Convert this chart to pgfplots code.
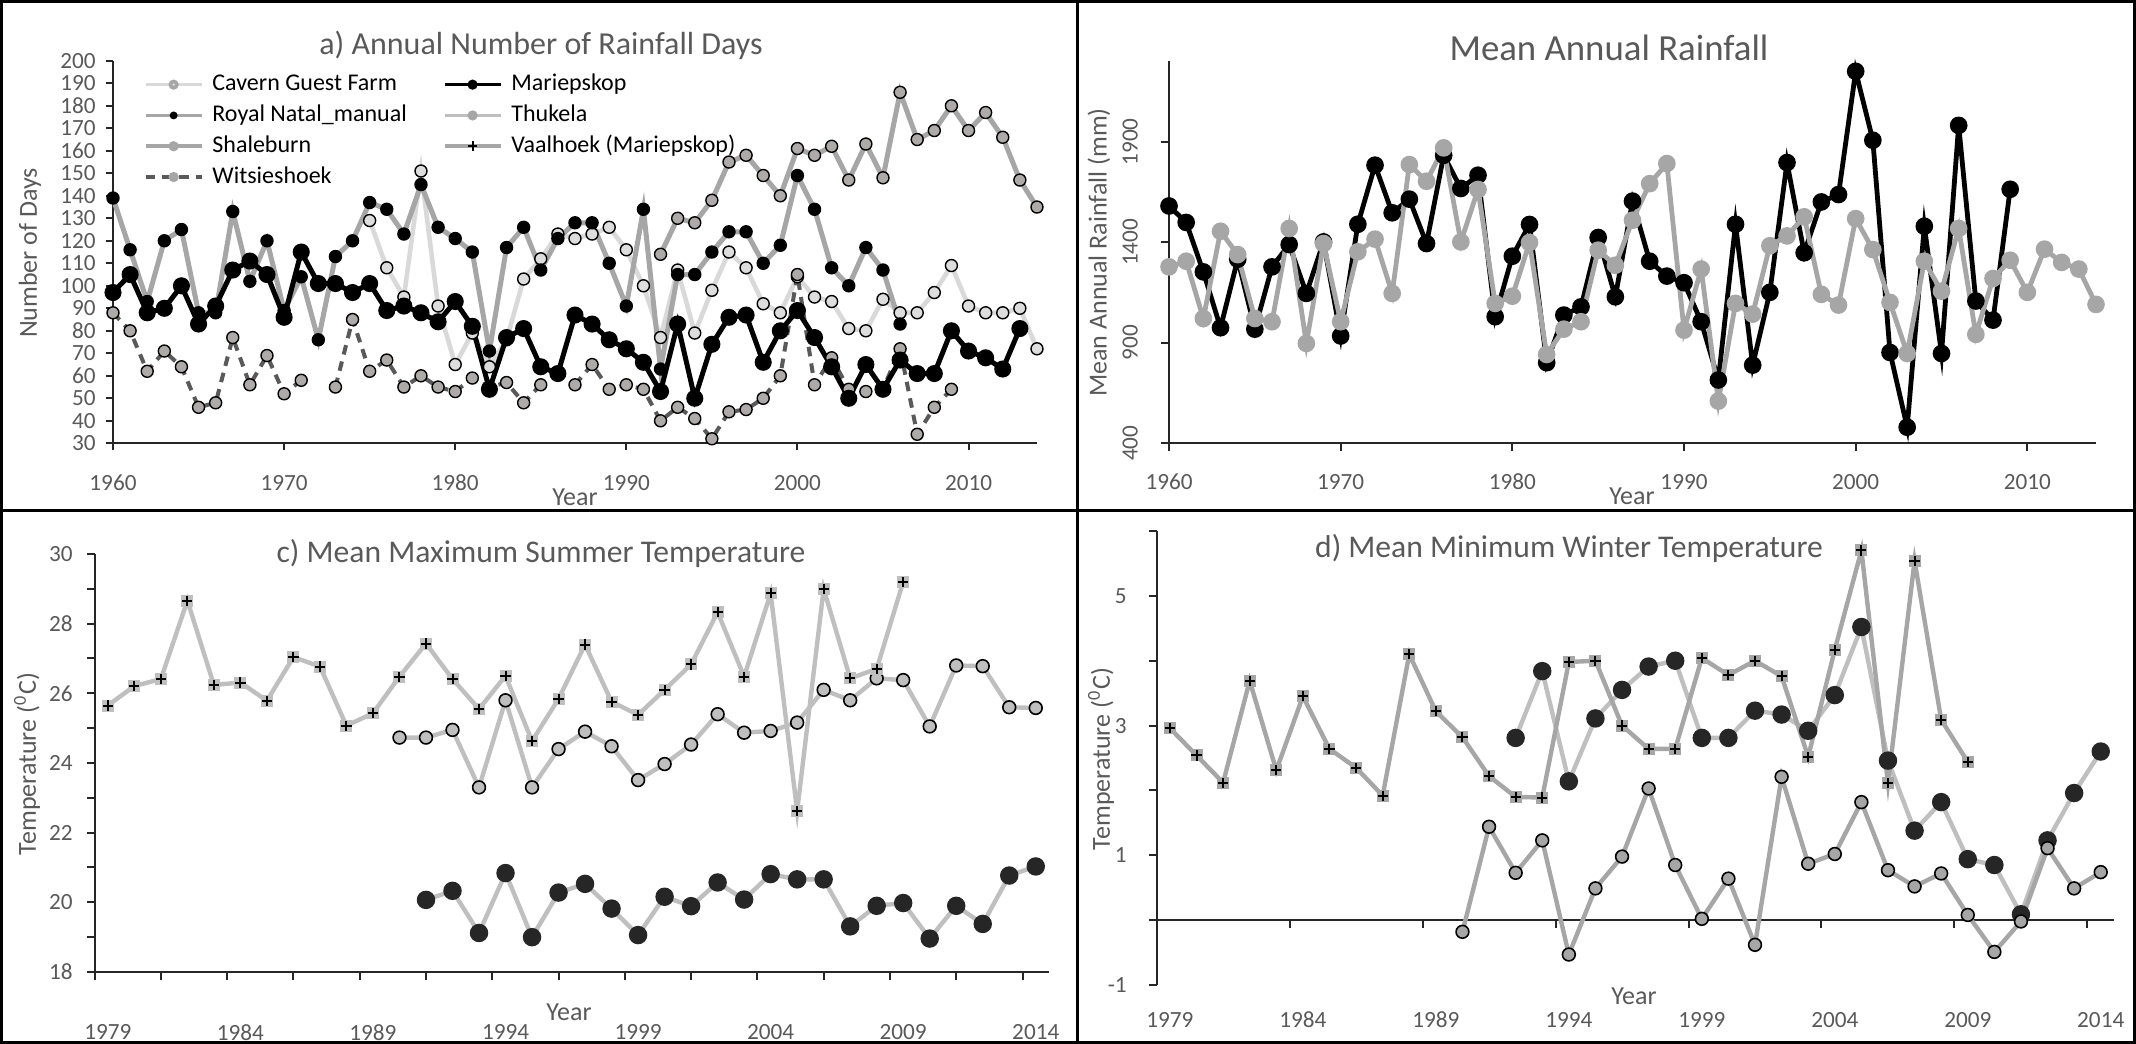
\documentclass[border=0pt]{standalone}
\usepackage{fontspec}
\setmainfont{Carlito}
\usepackage{pgfplots}
\pgfplotsset{compat=1.18}

\definecolor{txt}{HTML}{595959}
\definecolor{axcol}{HTML}{262626}
\definecolor{lgray}{HTML}{D9D9D9}
\definecolor{mgray}{HTML}{A6A6A6}
\definecolor{sgray}{HTML}{BFBFBF}
\definecolor{dgray}{HTML}{595959}
\definecolor{mkgray}{HTML}{AEAAAA}
\definecolor{mklight}{HTML}{DDDDDD}
\definecolor{nblack}{HTML}{262626}

% plus on a grey square, as Excel draws it
\pgfdeclareplotmark{sqplusL}{%
  \pgfpathrectangle{\pgfqpoint{-\pgfplotmarksize}{-\pgfplotmarksize}}{\pgfqpoint{2\pgfplotmarksize}{2\pgfplotmarksize}}%
  \pgfsetfillcolor{sgray}\pgfusepathqfill
  \pgfsetlinewidth{0.5pt}\pgfsetstrokecolor{black}%
  \pgfpathmoveto{\pgfqpoint{-0.85\pgfplotmarksize}{0pt}}\pgfpathlineto{\pgfqpoint{0.85\pgfplotmarksize}{0pt}}%
  \pgfpathmoveto{\pgfqpoint{0pt}{-0.85\pgfplotmarksize}}\pgfpathlineto{\pgfqpoint{0pt}{0.85\pgfplotmarksize}}%
  \pgfusepathqstroke}
\pgfdeclareplotmark{sqplusM}{%
  \pgfpathrectangle{\pgfqpoint{-\pgfplotmarksize}{-\pgfplotmarksize}}{\pgfqpoint{2\pgfplotmarksize}{2\pgfplotmarksize}}%
  \pgfsetfillcolor{mgray}\pgfusepathqfill
  \pgfsetlinewidth{0.5pt}\pgfsetstrokecolor{black}%
  \pgfpathmoveto{\pgfqpoint{-0.85\pgfplotmarksize}{0pt}}\pgfpathlineto{\pgfqpoint{0.85\pgfplotmarksize}{0pt}}%
  \pgfpathmoveto{\pgfqpoint{0pt}{-0.85\pgfplotmarksize}}\pgfpathlineto{\pgfqpoint{0pt}{0.85\pgfplotmarksize}}%
  \pgfusepathqstroke}

\pgfplotsset{
  panel/.style={
    scale only axis, clip=false,
    axis lines=left, axis line style={-, line width=0.5pt, color=axcol},
    tick align=outside, major tick length=1.9pt,
    tick style={line width=0.5pt, color=axcol},
    tick label style={font=\fontsize{5.8}{6}\selectfont, text=txt},
    /pgf/number format/1000 sep={}, /pgf/number format/assume math mode=true,
    label style={font=\fontsize{6.5}{7}\selectfont, text=txt},
    unbounded coords=jump,
  },
  cavern/.style={lgray, line width=1.15pt, mark=*, mark size=1.5pt, mark options={fill=mklight, draw=black, line width=0.35pt}},
  royal/.style={mgray, line width=1.25pt, mark=*, mark size=1.5pt, mark options={fill=black, draw=black, line width=0.35pt}},
  shale/.style={mgray, line width=1.25pt, mark=*, mark size=1.5pt, mark options={fill=mkgray, draw=black, line width=0.35pt}},
  wits/.style={dgray, line width=1pt, dash pattern=on 2.4pt off 1.8pt, mark=*, mark size=1.5pt, mark options={solid, fill=mkgray, draw=black, line width=0.35pt}},
  mariep/.style={black, line width=1.25pt, mark=*, mark size=1.5pt, mark options={fill=black, draw=black}},
}

\begin{document}
\begin{tikzpicture}
\useasboundingbox (0,0) rectangle (534pt,-261pt);
\draw[line width=0.75pt] (0.375pt,-0.375pt) rectangle (533.625pt,-260.625pt);
\draw[line width=0.75pt] (269.25pt,0pt) -- (269.25pt,-261pt);
\draw[line width=0.75pt] (0pt,-127.75pt) -- (534pt,-127.75pt);

% ---------------- a) rainfall days
\begin{axis}[panel,
  at={(28.25pt,-110.825pt)}, anchor=south west,
  width=231pt, height=95.625pt,
  xmin=1960, xmax=2014, ymin=30, ymax=200,
  xtick={1960,1970,...,2010}, ytick={30,40,...,200},
  major tick length=1.75pt,
  xticklabel style={anchor=center, yshift=-8.1pt},
  yticklabel style={anchor=east, inner sep=0pt, xshift=-2.4pt},
  xlabel={Year}, ylabel={Number of Days},
  xlabel style={at={(axis description cs:0.5,-0.14)}, anchor=center},
  ylabel style={at={(axis description cs:-0.0898,0.4975)}, anchor=center},
  legend columns=2, legend cell align=left,
  legend style={at={(axis description cs:0.0325,0.98)}, anchor=north west,
    draw=none, fill=none, inner sep=0pt, font=\fontsize{6}{7}\selectfont,
    nodes={inner sep=1pt, text height=4.4pt, text depth=1.3pt},
    /tikz/every odd column/.append style={column sep=1.25pt},
    /tikz/every even column/.append style={column sep=8pt}},
  legend image code/.code={\draw[mark repeat=2,mark phase=2,#1] plot coordinates {(0pt,0pt) (7pt,0pt) (14pt,0pt)};},
]
\addplot[cavern, forget plot] coordinates {
(1975,129)(1976,108)(1977,95)(1978,151)(1979,91)(1980,65)(1981,79)(1982,64)(1983,76)(1984,103)
(1985,112)(1986,123)(1987,121)(1988,123)(1989,126)(1990,116)(1991,100)(1992,77)(1993,107)(1994,79)
(1995,98)(1996,115)(1997,108)(1998,92)(1999,88)(2000,104)(2001,95)(2002,93)(2003,81)(2004,80)
(2005,94)(2006,88)(2007,88)(2008,97)(2009,109)(2010,91)(2011,88)(2012,88)(2013,90)(2014,72)};
\addplot[royal, forget plot] coordinates {
(1960,139)(1961,116)(1962,93)(1963,120)(1964,125)(1965,88)(1966,88)(1967,133)(1968,102)(1969,120)
(1970,89)(1971,104)(1972,76)(1973,113)(1974,120)(1975,137)(1976,134)(1977,123)(1978,145)(1979,126)
(1980,121)(1981,115)(1982,71)(1983,117)(1984,126)(1985,107)(1986,121)(1987,128)(1988,128)(1989,110)
(1990,91)(1991,134)(1992,63)(1993,105)(1994,105)(1995,115)(1996,124)(1997,124)(1998,110)(1999,118)
(2000,149)(2001,134)(2002,108)(2003,100)(2004,117)(2005,107)(2006,83)};
\addplot[shale, forget plot] coordinates {
(1992,114)(1993,130)(1994,128)(1995,138)(1996,155)(1997,158)(1998,149)(1999,140)(2000,161)(2001,158)
(2002,162)(2003,147)(2004,163)(2005,148)(2006,186)(2007,165)(2008,169)(2009,180)(2010,169)(2011,177)
(2012,166)(2013,147)(2014,135)};
\addplot[wits, forget plot] coordinates {
(1960,88)(1961,80)(1962,62)(1963,71)(1964,64)(1965,46)(1966,48)(1967,77)(1968,56)(1969,69)
(1970,52)(1971,58)(1972,nan)(1973,55)(1974,85)(1975,62)(1976,67)(1977,55)(1978,60)(1979,55)
(1980,53)(1981,59)(1982,55)(1983,57)(1984,48)(1985,56)(1986,nan)(1987,56)(1988,65)(1989,54)
(1990,56)(1991,54)(1992,40)(1993,46)(1994,41)(1995,32)(1996,44)(1997,45)(1998,50)(1999,60)
(2000,105)(2001,56)(2002,68)(2003,54)(2004,53)(2005,54)(2006,72)(2007,34)(2008,46)(2009,54)};
\addplot[mariep, forget plot] coordinates {
(1960,97)(1961,105)(1962,88)(1963,90)(1964,100)(1965,83)(1966,91)(1967,107)(1968,111)(1969,105)
(1970,86)(1971,115)(1972,101)(1973,101)(1974,97)(1975,101)(1976,89)(1977,91)(1978,88)(1979,84)
(1980,93)(1981,82)(1982,54)(1983,77)(1984,81)(1985,64)(1986,61)(1987,87)(1988,83)(1989,76)
(1990,72)(1991,66)(1992,53)(1993,83)(1994,50)(1995,74)(1996,86)(1997,87)(1998,66)(1999,80)
(2000,89)(2001,77)(2002,64)(2003,50)(2004,65)(2005,54)(2006,67)(2007,61)(2008,61)(2009,80)
(2010,71)(2011,68)(2012,63)(2013,81)};
\addlegendimage{cavern, line width=0.9pt, mark size=0.8pt, mark options={fill=mklight, draw=mgray}}
\addlegendentry{Cavern Guest Farm}
\addlegendimage{mariep, line width=0.9pt, mark size=0.8pt}
\addlegendentry{Mariepskop}
\addlegendimage{royal, line width=0.9pt, mark size=0.8pt}
\addlegendentry{Royal Natal\_manual}
\addlegendimage{sgray, line width=0.9pt, mark=*, mark size=0.8pt, mark options={fill=mgray, draw=mgray}}
\addlegendentry{Thukela}
\addlegendimage{shale, line width=0.9pt, mark size=0.8pt, mark options={fill=mkgray, draw=mgray}}
\addlegendentry{Shaleburn}
\addlegendimage{mgray, line width=0.9pt, mark=+, mark size=1.2pt, mark options={black, line width=0.5pt}}
\addlegendentry{Vaalhoek (Mariepskop)}
\addlegendimage{wits, line width=0.9pt, mark size=0.8pt, mark options={solid, fill=mkgray, draw=mgray}}
\addlegendentry{Witsieshoek}
\end{axis}

% ---------------- b) mean annual rainfall
\begin{axis}[panel,
  at={(292.25pt,-110.825pt)}, anchor=south west,
  width=231.75pt, height=95.45pt,
  xmin=1960, xmax=2014, ymin=400, ymax=2300,
  xtick={1960,1970,...,2010}, ytick={400,900,1400,1900},
  major tick length=2pt,
  xticklabel style={anchor=center, yshift=-7.6pt},
  yticklabel style={xshift=-5.6pt, rotate=90, anchor=south, inner sep=0pt},
  xlabel={Year}, ylabel={Mean Annual Rainfall (mm)},
  xlabel style={at={(axis description cs:0.4995,-0.14)}, anchor=center},
  ylabel style={at={(axis description cs:-0.0755,0.5)}, anchor=center},
]
\addplot[black, line width=1.2pt, mark=*, mark size=1.6pt] coordinates {
(1960,1581)(1961,1499)(1962,1253)(1963,975)(1964,1316)(1965,968)(1966,1278)(1967,1389)(1968,1146)(1969,1402)
(1970,934)(1971,1490)(1972,1784)(1973,1547)(1974,1615)(1975,1394)(1976,1833)(1977,1668)(1978,1734)(1979,1030)
(1980,1331)(1981,1489)(1982,801)(1983,1038)(1984,1079)(1985,1424)(1986,1129)(1987,1605)(1988,1306)(1989,1232)
(1990,1199)(1991,1005)(1992,715)(1993,1490)(1994,789)(1995,1151)(1996,1797)(1997,1348)(1998,1601)(1999,1638)
(2000,2251)(2001,1908)(2002,852)(2003,480)(2004,1480)(2005,847)(2006,1982)(2007,1108)(2008,1013)(2009,1664)};
\addplot[mgray, line width=1.2pt, mark=*, mark size=1.6pt] coordinates {
(1960,1278)(1961,1306)(1962,1021)(1963,1455)(1964,1339)(1965,1021)(1966,1005)(1967,1469)(1968,897)(1969,1394)
(1970,1005)(1971,1353)(1972,1416)(1973,1146)(1974,1787)(1975,1704)(1976,1870)(1977,1402)(1978,1663)(1979,1096)
(1980,1132)(1981,1399)(1982,842)(1983,968)(1984,1005)(1985,1361)(1986,1286)(1987,1510)(1988,1692)(1989,1792)
(1990,963)(1991,1267)(1992,610)(1993,1096)(1994,1043)(1995,1383)(1996,1432)(1997,1527)(1998,1141)(1999,1088)
(2000,1518)(2001,1364)(2002,1101)(2003,847)(2004,1306)(2005,1157)(2006,1469)(2007,942)(2008,1220)(2009,1311)
(2010,1151)(2011,1366)(2012,1300)(2013,1267)(2014,1091)};
\end{axis}

% ---------------- c) summer maximum temperature
\begin{axis}[panel,
  at={(23.65pt,-243pt)}, anchor=south west,
  width=238.6pt, height=104.5pt,
  xmin=1978.5, xmax=2014.5, ymin=18, ymax=30,
  xtick={1978.5,1981,1983.5,1986,1988.5,1991,1993.5,1996,1998.5,2001,2003.5,2006,2008.5,2011,2013.5},
  xticklabels={,,},
  extra x ticks={1979,1984,1989,1994,1999,2004,2009,2014},
  extra x tick labels={1979,1984,1989,1994,1999,2004,2009,2014},
  extra x tick style={tick style={draw=none}, xticklabel style={anchor=center, yshift=-13.2pt}},
  ytick={18,19,...,30}, yticklabels={18,,20,,22,,24,,26,,28,,30},
  yticklabel style={anchor=east, inner sep=0pt, xshift=-3.4pt},
  xlabel={Year}, ylabel={Temperature (\textsuperscript{0}C)},
  xlabel style={at={(axis description cs:0.497,-0.0974)}, anchor=center},
  ylabel style={at={(axis description cs:-0.0708,0.4976)}, anchor=center},
]
\addplot[sgray, line width=1.1pt, mark=*, mark size=1.6pt, mark options={fill=sgray, draw=black, line width=0.4pt}] coordinates {
(1990,24.73)(1991,24.73)(1992,24.95)(1993,23.3)(1994,25.8)(1995,23.3)(1996,24.4)(1997,24.9)(1998,24.48)(1999,23.51)
(2000,23.97)(2001,24.53)(2002,25.4)(2003,24.87)(2004,24.92)(2005,25.16)(2006,26.1)(2007,25.8)(2008,26.43)(2009,26.38)
(2010,25.05)(2011,26.8)(2012,26.78)(2013,25.6)(2014,25.58)};
\addplot[sgray, line width=1.1pt, mark=*, mark size=1.75pt, mark options={fill=nblack, draw=nblack}] coordinates {
(1991,20.07)(1992,20.33)(1993,19.12)(1994,20.84)(1995,19.0)(1996,20.28)(1997,20.53)(1998,19.82)(1999,19.06)
(2000,20.16)(2001,19.89)(2002,20.57)(2003,20.08)(2004,20.81)(2005,20.66)(2006,20.66)(2007,19.31)(2008,19.9)(2009,19.98)
(2010,18.96)(2011,19.9)(2012,19.38)(2013,20.77)(2014,21.03)};
\addplot[sgray, line width=1.1pt, mark=sqplusL, mark size=1.5pt] coordinates {
(1979,25.65)(1980,26.21)(1981,26.41)(1982,28.66)(1983,26.24)(1984,26.31)(1985,25.79)(1986,27.04)(1987,26.77)(1988,25.07)
(1989,25.43)(1990,26.48)(1991,27.43)(1992,26.41)(1993,25.55)(1994,26.5)(1995,24.63)(1996,25.84)(1997,27.4)(1998,25.76)
(1999,25.38)(2000,26.1)(2001,26.83)(2002,28.33)(2003,26.48)(2004,28.87)(2005,22.62)(2006,29.0)(2007,26.43)(2008,26.7)
(2009,29.2)};
\end{axis}

% ---------------- d) winter minimum temperature
\begin{axis}[panel,
  at={(289.15pt,-246.25pt)}, anchor=south west,
  width=239.35pt, height=113.5pt,
  xmin=1978.5, xmax=2014.5, ymin=-1, ymax=6,
  axis x line shift=-16.214pt,
  xtick={1983.5,1988.5,1993.5,1998.5,2003.5,2008.5,2013.5}, xticklabels={,,},
  extra x ticks={1979,1984,1989,1994,1999,2004,2009,2014},
  extra x tick labels={1979,1984,1989,1994,1999,2004,2009,2014},
  extra x tick style={tick style={draw=none}, xticklabel style={anchor=center, yshift=-23.1pt}},
  ytick={-1,0,...,6}, yticklabels={-1,,1,,3,,5,},
  yticklabel style={anchor=east, inner sep=0pt, xshift=-5.4pt},
  xlabel={Year}, ylabel={Temperature (\textsuperscript{0}C)},
  xlabel style={at={(axis description cs:0.4986,-0.0242)}, anchor=center},
  ylabel style={at={(axis description cs:-0.0581,0.4978)}, anchor=center},
]
\addplot[sgray, line width=1.1pt, mark=*, mark size=1.75pt, mark options={fill=nblack, draw=nblack}] coordinates {
(1992,2.81)(1993,3.84)(1994,2.14)(1995,3.11)(1996,3.55)(1997,3.91)(1998,4.0)(1999,2.81)(2000,2.81)(2001,3.23)
(2002,3.17)(2003,2.92)(2004,3.47)(2005,4.52)(2006,2.46)(2007,1.38)(2008,1.82)(2009,0.94)(2010,0.85)(2011,0.09)
(2012,1.23)(2013,1.96)(2014,2.60)};
\addplot[mgray, line width=1.1pt, mark=*, mark size=1.6pt, mark options={fill=mgray, draw=black, line width=0.4pt}] coordinates {
(1990,-0.18)(1991,1.44)(1992,0.73)(1993,1.23)(1994,-0.53)(1995,0.49)(1996,0.98)(1997,2.03)(1998,0.85)(1999,0.02)
(2000,0.64)(2001,-0.38)(2002,2.21)(2003,0.87)(2004,1.02)(2005,1.82)(2006,0.77)(2007,0.52)(2008,0.72)(2009,0.08)
(2010,-0.49)(2011,-0.02)(2012,1.11)(2013,0.49)(2014,0.74)};
\addplot[mgray, line width=1.1pt, mark=sqplusM, mark size=1.5pt] coordinates {
(1979,2.96)(1980,2.54)(1981,2.12)(1982,3.69)(1983,2.31)(1984,3.45)(1985,2.64)(1986,2.35)(1987,1.92)(1988,4.10)
(1989,3.22)(1990,2.82)(1991,2.22)(1992,1.90)(1993,1.89)(1994,3.98)(1995,4.0)(1996,3.0)(1997,2.64)(1998,2.64)
(1999,4.04)(2000,3.78)(2001,4.0)(2002,3.76)(2003,2.52)(2004,4.17)(2005,5.70)(2006,2.11)(2007,5.54)(2008,3.09)
(2009,2.44)};
\end{axis}

\node[font=\fontsize{8}{9}\selectfont, text=txt] at (135.25pt,-11.4pt) {a) Annual Number of Rainfall Days};
\node[font=\fontsize{9.2}{10}\selectfont, text=txt] at (402.25pt,-12pt) {Mean Annual Rainfall};
\node[font=\fontsize{7.9}{9}\selectfont, text=txt] at (135.25pt,-138.25pt) {c) Mean Maximum Summer Temperature};
\node[font=\fontsize{7.9}{9}\selectfont, text=txt] at (392.25pt,-137pt) {d) Mean Minimum Winter Temperature};
\end{tikzpicture}
\end{document}
